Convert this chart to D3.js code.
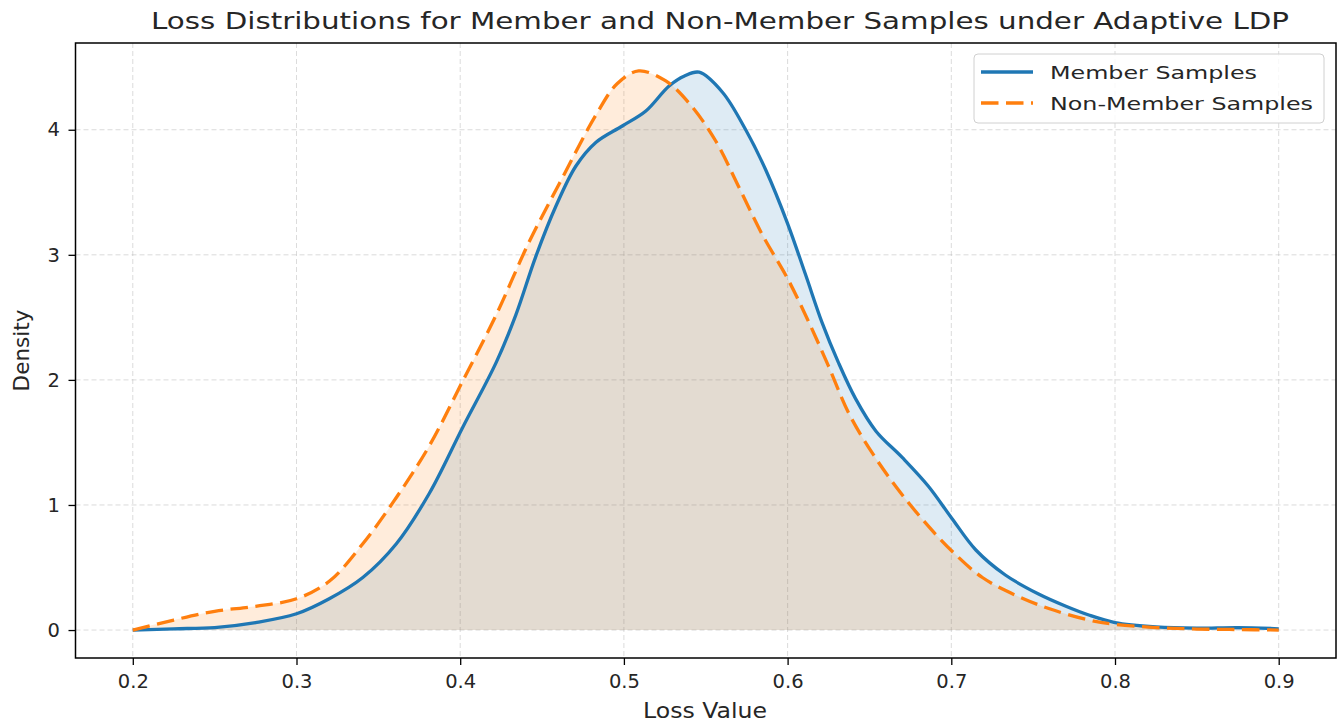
<!DOCTYPE html>
<html>
<head>
<meta charset="utf-8">
<script src="https://cdn.jsdelivr.net/npm/d3@7"></script>
<style>
body { margin: 0; background: #fff; }
text { font-family: "DejaVu Sans", sans-serif; fill: #262626; }
.grid line { stroke: #b0b0b0; stroke-opacity: 0.45; stroke-dasharray: 5 3; }
</style>
</head>
<body>
<script>
// chart values
var memberLoss    = [0.2, 0.225, 0.25, 0.275, 0.3, 0.32, 0.3405, 0.361, 0.381, 0.4015, 0.422, 0.434, 0.446, 0.4585, 0.4707, 0.483, 0.499, 0.5134, 0.5276, 0.537, 0.546, 0.5602, 0.5744, 0.5866, 0.6, 0.611, 0.621, 0.631, 0.6415, 0.654, 0.67, 0.686, 0.7005, 0.715, 0.733, 0.753, 0.77, 0.784, 0.8, 0.825, 0.85, 0.875, 0.9];
var memberDensity = [0, 0.01, 0.02, 0.06, 0.13, 0.25, 0.42, 0.69, 1.09, 1.62, 2.14, 2.52, 2.98, 3.39, 3.71, 3.9, 4.03, 4.15, 4.35, 4.43, 4.46, 4.3, 4.0, 3.68, 3.25, 2.84, 2.46, 2.14, 1.85, 1.59, 1.38, 1.15, 0.89, 0.64, 0.44, 0.29, 0.19, 0.12, 0.06, 0.025, 0.015, 0.02, 0.01];
var nonMemberLoss    = [0.2, 0.225, 0.25, 0.275, 0.3, 0.32, 0.3405, 0.361, 0.381, 0.4015, 0.422, 0.442, 0.4626, 0.483, 0.496, 0.509, 0.5256, 0.54, 0.5561, 0.5703, 0.5846, 0.6, 0.613, 0.625, 0.6375, 0.652, 0.666, 0.682, 0.7005, 0.719, 0.739, 0.76, 0.784, 0.8, 0.825, 0.85, 0.875, 0.9];
var nonMemberDensity = [0, 0.08, 0.15, 0.19, 0.25, 0.39, 0.69, 1.06, 1.47, 1.99, 2.52, 3.1, 3.62, 4.12, 4.37, 4.47, 4.39, 4.21, 3.91, 3.54, 3.16, 2.81, 2.46, 2.11, 1.73, 1.41, 1.15, 0.89, 0.63, 0.42, 0.28, 0.17, 0.08, 0.045, 0.02, 0.008, 0.004, 0];
var xTicks = [0.2, 0.3, 0.4, 0.5, 0.6, 0.7, 0.8, 0.9];
var yTicks = [0, 1, 2, 3, 4];
var seriesNames = ["Member Samples", "Non-Member Samples"];

var width = 1340, height = 724;
var margin = {left: 75.5, right: 4, top: 43, bottom: 66};

var svg = d3.select("body").append("svg")
    .attr("width", width)
    .attr("height", height);

var x = d3.scaleLinear().domain([0.165, 0.935]).range([margin.left, width - margin.right]);
var y = d3.scaleLinear().domain([-0.2235, 4.6935]).range([height - margin.bottom, margin.top]);

// grid
var grid = svg.append("g").attr("class", "grid");
grid.selectAll(".vx").data(xTicks).enter().append("line")
    .attr("x1", function(d){return x(d);}).attr("x2", function(d){return x(d);})
    .attr("y1", y.range()[1]).attr("y2", y.range()[0]);
grid.selectAll(".hy").data(yTicks).enter().append("line")
    .attr("y1", function(d){return y(d);}).attr("y2", function(d){return y(d);})
    .attr("x1", x.range()[0]).attr("x2", x.range()[1]);

var series = [
  {name: seriesNames[0], loss: memberLoss, values: memberDensity, color: "#1f77b4", dash: null},
  {name: seriesNames[1], loss: nonMemberLoss, values: nonMemberDensity, color: "#ff7f0e", dash: "17.5 7.5"}
];

// smooth kde-like curves through the read points
var area = d3.area()
    .x(function(d){return x(d[0]);})
    .y0(y(0))
    .y1(function(d){return y(Math.max(0, d[1]));})
    .curve(d3.curveCatmullRom.alpha(0.5));
var line = d3.line()
    .x(function(d){return x(d[0]);})
    .y(function(d){return y(d[1]);})
    .curve(d3.curveCatmullRom.alpha(0.5));

series.forEach(function(s){
  s.pts = s.loss.map(function(v, i){return [v, s.values[i]];});
  svg.append("path").datum(s.pts)
    .attr("d", area)
    .attr("fill", s.color)
    .attr("fill-opacity", 0.15);
});
series.forEach(function(s){
  svg.append("path").datum(s.pts)
    .attr("d", line)
    .attr("fill", "none")
    .attr("stroke", s.color)
    .attr("stroke-width", 3.3)
    .attr("stroke-dasharray", s.dash);
});

// axes
var xAxis = svg.append("g")
    .attr("transform", "translate(0," + (height - margin.bottom) + ")")
    .call(d3.axisBottom(x).tickValues(xTicks).tickFormat(d3.format(".1f")).tickSize(7).tickPadding(9));
var yAxis = svg.append("g")
    .attr("transform", "translate(" + margin.left + ",0)")
    .call(d3.axisLeft(y).tickValues(yTicks).tickFormat(d3.format("d")).tickSize(7).tickPadding(8.5));
[xAxis, yAxis].forEach(function(a){
  a.select(".domain").remove();
  a.selectAll("text").style("font-size", "19.5px").attr("fill", "#262626");
  a.selectAll("line").attr("stroke", "#000").attr("stroke-width", 1.3);
});

svg.append("rect")
    .attr("x", margin.left).attr("y", margin.top)
    .attr("width", width - margin.left - margin.right)
    .attr("height", height - margin.top - margin.bottom)
    .attr("fill", "none").attr("stroke", "#000").attr("stroke-width", 1.5);

// labels
svg.append("text")
    .attr("x", 151).attr("y", 28.5)
    .attr("textLength", 1138).attr("lengthAdjust", "spacingAndGlyphs")
    .style("font-size", "23.5px")
    .text("Loss Distributions for Member and Non-Member Samples under Adaptive LDP");
svg.append("text")
    .attr("x", 643).attr("y", 718)
    .attr("textLength", 124).attr("lengthAdjust", "spacingAndGlyphs")
    .style("font-size", "21px")
    .text("Loss Value");
svg.append("text")
    .attr("transform", "translate(29," + ((margin.top + height - margin.bottom) / 2) + ") rotate(-90)")
    .attr("text-anchor", "middle").style("font-size", "21.5px")
    .text("Density");

// legend
var legendWidths = [207, 263];
var legend = svg.append("g").attr("transform", "translate(974,54)");
legend.append("rect")
    .attr("width", 350).attr("height", 69).attr("rx", 4)
    .attr("fill", "#fff").attr("fill-opacity", 0.8)
    .attr("stroke", "#d0d0d0");
series.forEach(function(s, i){
  var g = legend.append("g").attr("transform", "translate(0," + (18 + i * 31) + ")");
  g.append("line").attr("x1", 7).attr("x2", 59).attr("y1", 0).attr("y2", 0)
    .attr("stroke", s.color).attr("stroke-width", 3.3).attr("stroke-dasharray", s.dash);
  g.append("text").attr("x", 76).attr("y", 6.5)
    .attr("textLength", legendWidths[i]).attr("lengthAdjust", "spacingAndGlyphs")
    .style("font-size", "18.5px").text(s.name);
});
</script>
</body>
</html>
